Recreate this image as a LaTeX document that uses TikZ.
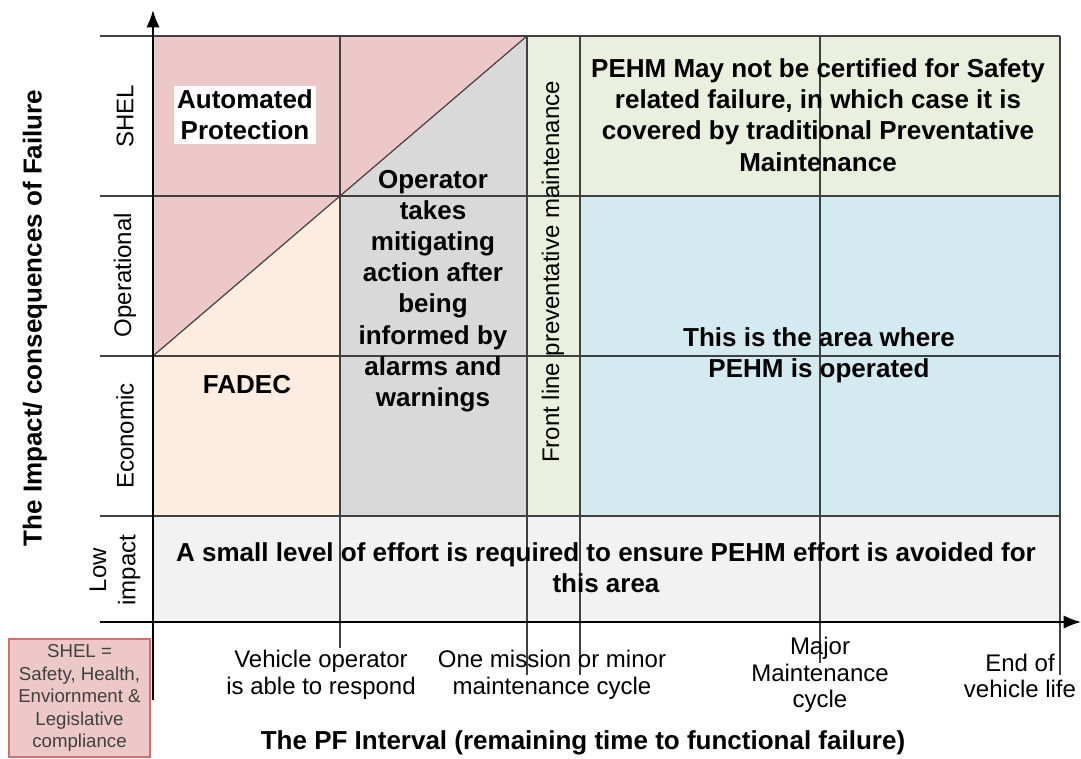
\documentclass[tikz,border=0pt]{standalone}
\usepackage{fontspec}
\setmainfont{Liberation Sans}
\usepackage{xcolor}
\usetikzlibrary{arrows.meta}

\definecolor{shelpink}{RGB}{236,200,200}
\definecolor{shelred}{RGB}{208,112,110}
\definecolor{fadecpeach}{RGB}{253,237,224}
\definecolor{opgray}{RGB}{217,217,217}
\definecolor{pmgreen}{RGB}{235,240,222}
\definecolor{pehmblue}{RGB}{210,234,240}
\definecolor{lowgray}{RGB}{242,242,242}

\begin{document}
\begin{tikzpicture}[x=0.75pt,y=-0.75pt]

\tikzset{grid/.style = {draw=black!75, line width=0.9pt}}
\tikzset{axis/.style = {-{Latex[length=13pt,width=10pt]}, line width=1.4pt}}
\tikzset{big/.style = {font=\fontsize{19.5}{23.4}\selectfont\bfseries, align=center, inner sep=1pt}}
\tikzset{lbl/.style = {font=\fontsize{18}{20}\selectfont, align=center, inner sep=1pt}}
\useasboundingbox (0,0) rectangle (1081,758);

%regions
\fill[shelpink] (153,36) -- (527,36) -- (153,356) -- cycle;
\fill[fadecpeach] (153,356) -- (340,196) -- (340,516) -- (153,516) -- cycle;
\fill[opgray] (340,196) -- (527,36) -- (527,516) -- (340,516) -- cycle;
\fill[pmgreen] (527,36) rectangle (1060,196);
\fill[pmgreen] (527,196) rectangle (580,516);
\fill[pehmblue] (580,196) rectangle (1060,516);
\fill[lowgray] (153,516) rectangle (1060,622);

%grid
\foreach \y in {36,196,356,516}
  \draw[grid] (100,\y) -- (1060,\y);
\draw[grid] (527,36) -- (153,356);
\draw[grid] (340,36) -- (340,648);
\draw[grid] (527,36) -- (527,675);
\draw[grid] (580,36) -- (580,675);
\draw[grid] (820,36) -- (820,663);
\draw[grid] (1060,36) -- (1060,675);

%axes
\draw[axis] (153,700) -- (153,10);
\draw[axis] (100,622) -- (1081,622);

%texts in the chart
\node[big, fill=white, inner xsep=2pt, inner ysep=3pt] (auto) at (245,115) {Automated\\Protection};
\node[big] (fadec) at (247,385) {FADEC};
\node[big] (oper) at (433,291) {Operator\\takes\\mitigating\\action after\\being\\informed by\\alarms and\\warnings};
\node[lbl, rotate=90] (front) at (553,272) {Front line preventative maintenance};
\node[big] (cert) at (818,115) {PEHM May not be certified for Safety\\related failure, in which case it is\\covered by traditional Preventative\\Maintenance};
\node[big] (area) at (819,355) {This is the area where\\PEHM is operated};
\node[big] (low) at (606,568) {A small level of effort is required to ensure PEHM effort is avoided for\\this area};

%impact levels
\node[lbl, rotate=90] (shel) at (125,116) {SHEL};
\node[lbl, rotate=90] (opl) at (125,275) {Operational};
\node[lbl, rotate=90] (eco) at (125,436) {Economic};
\node[lbl, rotate=90, font=\fontsize{18}{22}\selectfont] (lowi) at (115,570) {Low\\impact};

%time marks
\node[lbl] (resp) at (321,675) {Vehicle operator\\is able to respond};
\node[lbl] (miss) at (552,675) {One mission or minor\\maintenance cycle};
\node[lbl] (major) at (820,675) {Major\\Maintenance\\cycle};
\node[lbl] (life) at (1020,676) {End of\\vehicle life};

%axis titles
\node[big] (xtitle) at (583,743) {The PF Interval (remaining time to functional failure)};
\node[big, rotate=90] (ytitle) at (35,318) {The Impact/ consequences of Failure};

%key
\node[draw=shelred, fill=shelpink, line width=1pt, minimum width=141*0.75pt, minimum height=118*0.75pt,
  align=center, text=black!75, font=\fontsize{14}{16.9}\selectfont] (key) at (79.5,698)
  {SHEL =\\Safety, Health,\\Enviornment \&\\Legislative\\compliance};
\end{tikzpicture}
\end{document}
